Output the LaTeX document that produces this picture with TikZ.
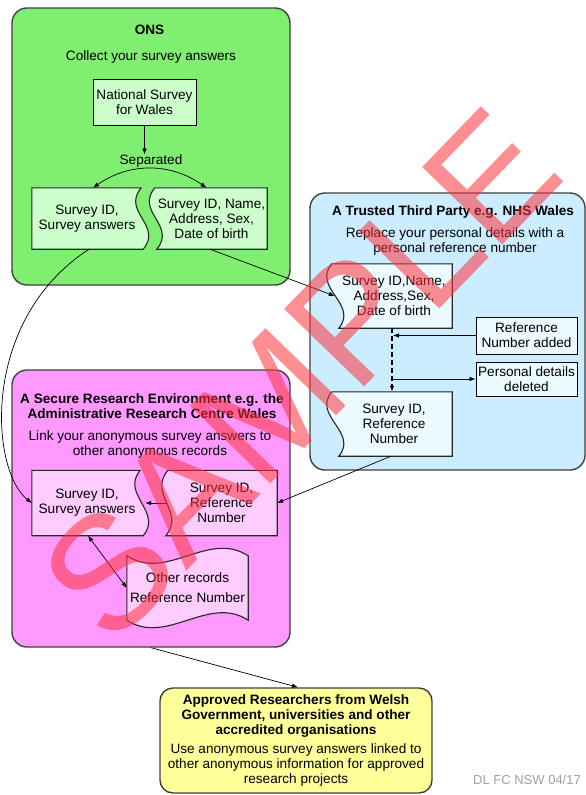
\documentclass[tikz,border=0pt]{standalone}
\usepackage{fontspec}
\setmainfont{Liberation Sans}
\usepackage{xcolor}
\usepackage{tikz}
\usetikzlibrary{arrows.meta, calc, positioning}
\pgfdeclarelayer{zones}
\pgfdeclarelayer{sheets}
\pgfsetlayers{zones,sheets,main}

\definecolor{onsgreen}{RGB}{128,238,112}
\definecolor{palegreen}{RGB}{204,255,204}
\definecolor{ttpblue}{RGB}{204,236,255}
\definecolor{palecyan}{RGB}{235,250,255}
\definecolor{srepink}{RGB}{255,153,255}
\definecolor{palepink}{RGB}{255,204,255}
\definecolor{appyellow}{RGB}{255,255,153}
\definecolor{zoneline}{RGB}{64,64,64}
\definecolor{footgray}{RGB}{160,160,160}
\definecolor{stampred}{RGB}{255,50,60}

\newcommand{\diagfont}{\fontsize{13.6}{15}\selectfont}

% record sheet with a wavy right side: fill, node, top shift, bottom shift
\newcommand{\waveright}[4]{%
  \begin{pgfonlayer}{sheets}
    \draw[sheet, fill=#1] (#2.north west) -- ([xshift=#3]#2.north east)
      .. controls ([xshift=#3-20pt, yshift=-24pt]#2.north east) and ([xshift=#4+20pt, yshift=24pt]#2.south east) .. ([xshift=#4]#2.south east)
      -- (#2.south west) -- cycle;
  \end{pgfonlayer}}
% record sheet with a wavy left side
\newcommand{\waveleft}[4]{%
  \begin{pgfonlayer}{sheets}
    \draw[sheet, fill=#1] ([xshift=#3]#2.north west) -- (#2.north east) -- (#2.south east) -- ([xshift=#4]#2.south west)
      .. controls ([xshift=#4+20pt, yshift=24pt]#2.south west) and ([xshift=#3-20pt, yshift=-24pt]#2.north west) .. ([xshift=#3]#2.north west)
      -- cycle;
  \end{pgfonlayer}}

\begin{document}
\begin{tikzpicture}[x=1pt, y=-1pt, >={Latex[length=6pt,width=4.5pt]},
    every node/.style={font=\diagfont, align=center, inner sep=0pt},
    zone/.style={draw=zoneline, line width=1.4pt, rounded corners=15pt},
    heading/.style={font=\diagfont\bfseries},
    tag/.style={draw=black, line width=0.9pt, fill=palecyan},
    sheet/.style={draw=black!85, line width=1.1pt},
    link/.style={->, line width=0.7pt}]

  \useasboundingbox (0,0) rectangle (586,795);

  \begin{pgfonlayer}{zones}
    \node[zone, fill=onsgreen, minimum width=278pt, minimum height=277pt] (onsZone) at (151,146.5) {};
    \node[zone, fill=ttpblue, minimum width=275pt, minimum height=277pt] (ttpZone) at (447.5,331.5) {};
    \node[zone, fill=srepink, minimum width=278pt, minimum height=277pt] (sreZone) at (151,508.5) {};
  \end{pgfonlayer}

  % ONS
  \node[heading] (onsHead) at (149.5,30) {ONS};
  \node (onsNote) at (151,57) {Collect your survey answers};
  \node[draw=black, line width=0.9pt, fill=palegreen, minimum width=103pt, minimum height=46pt] (nsw) at (144.5,102) {National Survey\\for Wales};
  \node (split) at (151,161) {Separated};
  \node[minimum width=110pt, minimum height=61pt] (onsAnswers) at (87,218.5) {Survey ID,\\Survey answers};
  \node[minimum width=111pt, minimum height=61pt] (onsPersonal) at (211.5,218.5) {Survey ID, Name,\\Address, Sex,\\Date of birth};
  \waveright{palegreen}{onsAnswers}{-1pt}{1pt}
  \waveleft{palegreen}{onsPersonal}{-1pt}{1pt}

  % trusted third party
  \node[heading] (ttpHead) at (453,212) {A Trusted Third Party e.g. NHS Wales};
  \node (ttpNote) at (455,241) {Replace your personal details with a\\personal reference number};
  \node[minimum width=116pt, minimum height=64pt] (ttpPersonal) at (394,296) {Survey ID,Name,\\Address,Sex,\\Date of birth};
  \node[minimum width=116pt, minimum height=64pt] (ttpCoded) at (394,424) {Survey ID,\\Reference\\Number};
  \waveleft{palecyan}{ttpPersonal}{-4pt}{3pt}
  \waveleft{palecyan}{ttpCoded}{-4pt}{3pt}
  \node[tag, minimum width=101pt, minimum height=37pt] (refAdded) at (526.5,335.5) {Reference\\Number added};
  \node[tag, minimum width=101pt, minimum height=34pt] (detailsGone) at (526.5,379) {Personal details\\deleted};

  % secure research environment
  \node[heading] (sreHead) at (152,406.5) {A Secure Research Environment e.g. the\\Administrative Research Centre Wales};
  \node (sreNote) at (150,444) {Link your anonymous survey answers to\\other anonymous records};
  \node[minimum width=110pt, minimum height=65pt] (sreAnswers) at (87,503) {Survey ID,\\Survey answers};
  \node[minimum width=111pt, minimum height=65pt] (sreCoded) at (221.5,503) {Survey ID,\\Reference\\Number};
  \waveright{palepink}{sreAnswers}{-2pt}{1pt}
  \waveleft{palepink}{sreCoded}{2pt}{0pt}
  \node[minimum width=121pt, minimum height=64pt] (otherRecords) at (187.5,588) {Other records\\[5pt]Reference Number};
  \begin{pgfonlayer}{sheets}
    \draw[sheet, fill=palepink] (otherRecords.north west)
      .. controls ([xshift=40pt, yshift=-26pt]otherRecords.north west) and ([xshift=-40pt, yshift=26pt]otherRecords.north east) .. (otherRecords.north east)
      -- (otherRecords.south east)
      .. controls ([xshift=-40pt, yshift=26pt]otherRecords.south east) and ([xshift=40pt, yshift=-26pt]otherRecords.south west) .. (otherRecords.south west)
      -- cycle;
  \end{pgfonlayer}

  % approved researchers
  \node[zone, rounded corners=13pt, fill=appyellow, minimum width=272pt, minimum height=105pt] (approved) at (296,740.5)
    {\textbf{Approved Researchers from Welsh}\\\textbf{Government, universities and other}\\\textbf{accredited organisations}\\[4pt]Use anonymous survey answers linked to\\other anonymous information for approved\\research projects};
  \node[text=footgray, font=\fontsize{13}{15}\selectfont] (versionNote) at (527,780) {DL FC NSW 04/17};

  % connectors
  \draw[link] (nsw.south) -- (nsw.south |- split.north);
  \draw[<->, line width=0.7pt] ([xshift=6pt]onsAnswers.north) to[bend left=35] ([xshift=-5pt]onsPersonal.north);
  \draw[link] ([xshift=-1.5pt]onsPersonal.south) -- ([xshift=-1pt]ttpPersonal.west);
  \draw[link] ([xshift=2pt]onsAnswers.south) .. controls (-20,320) and (-10,470) .. (sreAnswers.west);

  \coordinate (spineTop) at ([xshift=-2pt]ttpPersonal.south);
  \coordinate (addJoin) at (spineTop |- refAdded.west);
  \coordinate (dropJoin) at (spineTop |- detailsGone.west);
  \draw[->, line width=1.8pt, dash pattern=on 5pt off 3pt] (spineTop) -- ([xshift=-2pt]ttpCoded.north);
  \draw[link] (refAdded.west) -- ([xshift=1pt]addJoin);
  \draw[link] (dropJoin) -- (detailsGone.west);

  \draw[link] ([xshift=-3pt]ttpCoded.south) -- (sreCoded.east);
  \draw[link] (sreCoded.west) -- ([xshift=3pt]sreAnswers.east);
  \draw[<->, line width=0.7pt] ([xshift=1pt]sreAnswers.south) -- (otherRecords.west);
  \draw[link] (sreZone.south) -- ([xshift=2pt]approved.north);

  % watermark
  \node[rotate=46, text=stampred, text opacity=0.55, font=\fontsize{162}{162}\selectfont] (stamp) at (300,374) {SAMPLE};

\end{tikzpicture}
\end{document}
